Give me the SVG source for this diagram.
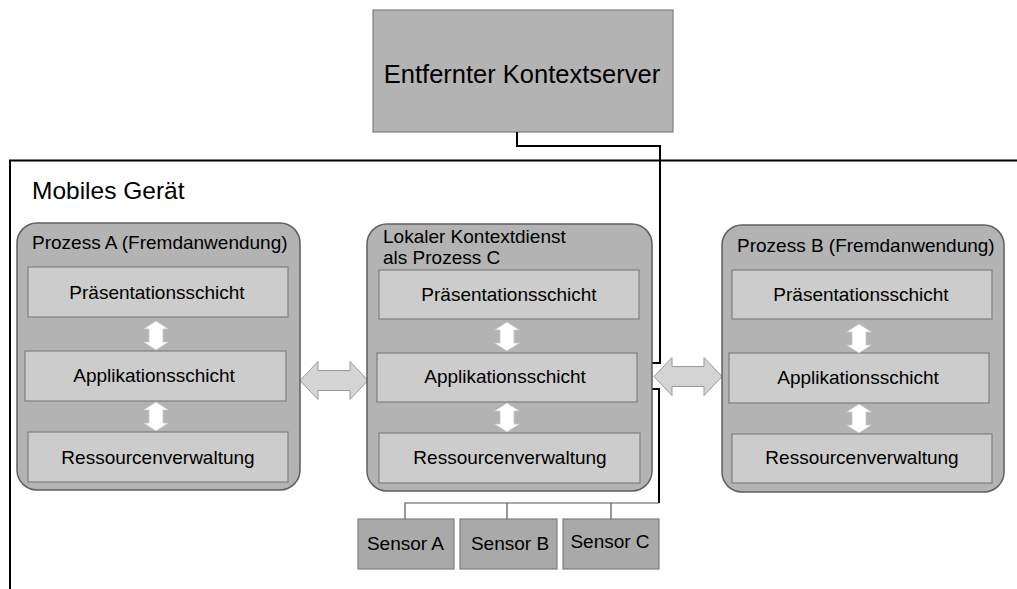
<svg xmlns="http://www.w3.org/2000/svg" xmlns:xlink="http://www.w3.org/1999/xlink" width="1017" height="589" viewBox="0 0 1017 589">
  <style>
    text { font-family: "Liberation Sans", Arial, sans-serif; fill: #000; }
    .lbl { font-size: 19px; text-anchor: middle; }
    .title { font-size: 19px; }
    .proc { fill: #b3b3b3; stroke: #5f5f5f; stroke-width: 1.5; }
    .layer { fill: #cccccc; stroke: #7f7f7f; stroke-width: 1.2; }
    .sensor { fill: #a9a9a9; stroke: #7f7f7f; stroke-width: 1.2; }
    .server { fill: #b3b3b3; stroke: #7f7f7f; stroke-width: 1.2; }
    .wire { fill: none; stroke: #000; stroke-width: 2; }
    .bus { fill: none; stroke: #555; stroke-width: 1.2; }
    .varrow { fill: #ffffff; stroke: #c8c8c8; stroke-width: 0.8; }
    .harrow { fill: #d4d4d4; stroke: #9a9a9a; stroke-width: 1; }
  </style>
  <defs>
    <!-- vertical double arrow between stacked layers, origin at top centre -->
    <path id="vdouble" d="M0,0 L12.5,8 H7 V21 H12.5 L0,29 L-12.5,21 H-7 V8 H-12.5 Z"/>
    <!-- horizontal double arrow between processes, origin at left tip -->
    <path id="hdouble" d="M0,0 L18,-19 V-10 H50 V-19 L68,0 L50,19 V10 H18 V19 Z"/>
  </defs>

  <rect width="1017" height="589" fill="#ffffff"/>

  <!-- device frame -->
  <g id="device">
    <path d="M10,589 V160.5 H1017" fill="none" stroke="#000" stroke-width="2"/>
    <text x="32" y="199" style="font-size:24.5px">Mobiles Gerät</text>
  </g>

  <!-- remote server -->
  <g id="server">
    <rect class="server" x="373" y="10" width="300" height="122"/>
    <text x="522" y="83" style="font-size:25.5px" text-anchor="middle">Entfernter Kontextserver</text>
  </g>

  <!-- connectors -->
  <g id="connectors">
    <path class="wire" d="M517,132 V146 H660 V363 H637"/>
    <path class="wire" d="M637,389 H659 V503"/>
    <path class="bus" d="M659,503 H405 V519 M507,503 V519 M611,503 V519"/>
    <use xlink:href="#hdouble" class="harrow" transform="translate(300,380.5)"/>
    <use xlink:href="#hdouble" class="harrow" transform="translate(654,376.5)"/>
  </g>

  <!-- process A -->
  <g id="processA">
    <rect class="proc" x="17" y="223" width="283" height="267" rx="20"/>
    <text class="title" x="32" y="249">Prozess A (Fremdanwendung)</text>
    <rect class="layer" x="28" y="267" width="260" height="50"/>
    <text class="lbl" x="157" y="299">Präsentationsschicht</text>
    <rect class="layer" x="25" y="351" width="261" height="50"/>
    <text class="lbl" x="154" y="382">Applikationsschicht</text>
    <rect class="layer" x="28" y="432" width="260" height="50"/>
    <text class="lbl" x="158" y="463.5">Ressourcenverwaltung</text>
    <use xlink:href="#vdouble" class="varrow" transform="translate(156,321)"/>
    <use xlink:href="#vdouble" class="varrow" transform="translate(156,402)"/>
  </g>

  <!-- process C: local context service -->
  <g id="processC">
    <rect class="proc" x="367" y="224" width="285" height="267" rx="20"/>
    <text class="title" x="383" y="243">Lokaler Kontextdienst</text>
    <text class="title" x="383" y="264">als Prozess C</text>
    <rect class="layer" x="379" y="270" width="260" height="49"/>
    <text class="lbl" x="509" y="300.5">Präsentationsschicht</text>
    <rect class="layer" x="377" y="353" width="260" height="49"/>
    <text class="lbl" x="505" y="382.5">Applikationsschicht</text>
    <rect class="layer" x="379" y="433" width="261" height="50"/>
    <text class="lbl" x="510" y="463.5">Ressourcenverwaltung</text>
    <use xlink:href="#vdouble" class="varrow" transform="translate(507,322)"/>
    <use xlink:href="#vdouble" class="varrow" transform="translate(507,403)"/>
  </g>

  <!-- process B -->
  <g id="processB">
    <rect class="proc" x="722" y="225" width="282" height="267" rx="20"/>
    <text class="title" x="737" y="252">Prozess B (Fremdanwendung)</text>
    <rect class="layer" x="732" y="270" width="260" height="49"/>
    <text class="lbl" x="861" y="300.5">Präsentationsschicht</text>
    <rect class="layer" x="729" y="353" width="260" height="50"/>
    <text class="lbl" x="858" y="383.5">Applikationsschicht</text>
    <rect class="layer" x="732" y="434" width="260" height="49"/>
    <text class="lbl" x="862" y="463.5">Ressourcenverwaltung</text>
    <use xlink:href="#vdouble" class="varrow" transform="translate(859,324)"/>
    <use xlink:href="#vdouble" class="varrow" transform="translate(859,404)"/>
  </g>

  <!-- sensors -->
  <g id="sensorA">
    <rect class="sensor" x="358" y="519" width="96" height="50"/>
    <text class="lbl" x="405.5" y="550">Sensor A</text>
  </g>
  <g id="sensorB">
    <rect class="sensor" x="460" y="519" width="97" height="50"/>
    <text class="lbl" x="510" y="549.5">Sensor B</text>
  </g>
  <g id="sensorC">
    <rect class="sensor" x="563" y="519" width="96" height="50"/>
    <text class="lbl" x="610" y="548">Sensor C</text>
  </g>
</svg>
